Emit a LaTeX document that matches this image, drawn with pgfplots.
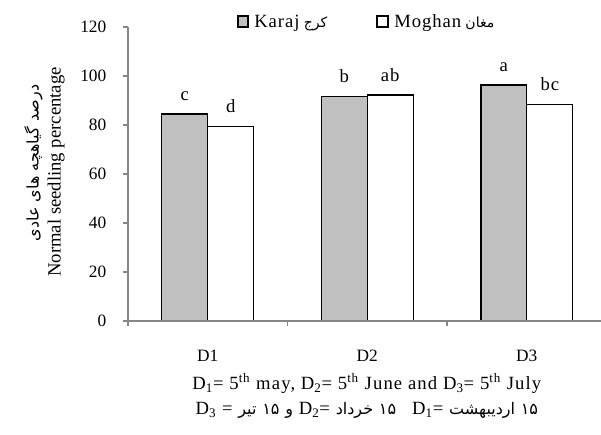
\documentclass[border=0pt]{standalone}
\usepackage{fontspec}
\setmainfont{Liberation Serif}
\newfontfamily\ar[Script=Arabic]{DejaVu Sans}
\newfontfamily\lsp[LetterSpace=5]{Liberation Serif}
\newfontfamily\lspb[LetterSpace=6]{Liberation Serif}
\TeXXeTstate=1
\usepackage{pgfplots}
\pgfplotsset{compat=1.18}
\definecolor{kgray}{RGB}{192,192,192}
\definecolor{axgray}{RGB}{134,134,134}
\newcommand{\fa}[1]{{\ar\fontsize{12}{14}\selectfont\beginR #1\endR}}
\begin{document}
\begin{tikzpicture}[font=\fontsize{13}{15}\selectfont]
\path[use as bounding box] (-96pt,-85.5pt) rectangle (354.75pt,240.75pt);
\begin{axis}[
  at={(0pt,0pt)}, anchor=south west,
  scale only axis, width=354.75pt, height=220.5pt,
  xmin=0.5, xmax=3.465, ymin=0, ymax=120,
  axis lines*=left, axis on top,
  axis line style={draw=axgray, line width=0.9pt},
  ytick={0,20,...,120},
  xtick={1,2,3}, xticklabels={D1,D2,D3},
  minor xtick={0.5,1.5,2.5},
  major x tick style={draw=none},
  minor x tick style={draw=axgray, line width=0.9pt},
  y tick style={draw=axgray, line width=0.9pt},
  tick align=outside,
  major tick length=3.75pt, minor tick length=3.75pt,
  /pgf/number format/assume math mode=true,
  tick label style={font=\fontsize{13}{15}\selectfont},
  yticklabel style={anchor=east, xshift=-9pt},
  xticklabel style={anchor=base, yshift=-26.5pt},
  clip=false,
]
% Karaj (left bar of each pair, centred 0.144 left of the category)
\addplot[ybar, bar width=0.288, bar shift=0, fill=kgray, draw=black, line width=1pt,
  nodes near coords, point meta=explicit symbolic,
  every node near coord/.append style={anchor=base, yshift=10pt, font=\lsp\fontsize{14}{16}\selectfont, text=black}]
  coordinates {(0.856,84.5) [c] (1.856,91.7) [b] (2.856,96.3) [a]};
% Moghan (right bar of each pair)
\addplot[ybar, bar width=0.288, bar shift=0, fill=white, draw=black, line width=1pt,
  nodes near coords, point meta=explicit symbolic,
  every node near coord/.append style={anchor=base, yshift=10pt, font=\lsp\fontsize{14}{16}\selectfont, text=black}]
  coordinates {(1.144,79.5) [d] (2.144,92.3) [ab] (3.144,88.5) [bc]};
% legend
\draw[fill=kgray, draw=black, line width=0.9pt] (axis description cs:0.2326,1.0) rectangle (axis description cs:0.2537,1.0374);
\draw[fill=white, draw=black, line width=0.9pt] (axis description cs:0.5264,1.0) rectangle (axis description cs:0.5497,1.0374);
\node[anchor=base west, inner sep=0pt] at (axis description cs:0.2664,0.9966) {{\lsp\fontsize{14}{16}\selectfont Karaj} {\ar\fontsize{10.5}{12}\selectfont\beginR کرج\endR}};
\node[anchor=base west, inner sep=0pt] at (axis description cs:0.5624,0.9966) {{\lsp\fontsize{14}{16}\selectfont Moghan} {\ar\fontsize{10.5}{12}\selectfont\beginR مغان\endR}};
% y labels
\node[rotate=90, anchor=center] at (axis description cs:-0.152,0.507) {\fontsize{14}{16}\selectfont Normal seedling percentage};
\node[rotate=90, anchor=center] at (axis description cs:-0.2,0.537) {\ar\fontsize{12}{14}\selectfont\beginR درصد گیاهچه های عادی\endR};
% bottom notes
\node[anchor=center] at (axis description cs:0.505,-0.214) {\lspb\fontsize{14}{16}\selectfont D\textsubscript{1}= 5\textsuperscript{th} may, D\textsubscript{2}= 5\textsuperscript{th} June and D\textsubscript{3}= 5\textsuperscript{th} July};
\node[anchor=center] at (axis description cs:0.505,-0.303) {\lspb\fontsize{14}{16}\selectfont D\textsubscript{3} = \fa{تیر} \fa{۱۵} \fa{و} D\textsubscript{2}= \fa{خرداد} \fa{۱۵}\hspace{12pt}D\textsubscript{1}= \fa{اردیبهشت} \fa{۱۵}};
\end{axis}
\end{tikzpicture}
\end{document}
